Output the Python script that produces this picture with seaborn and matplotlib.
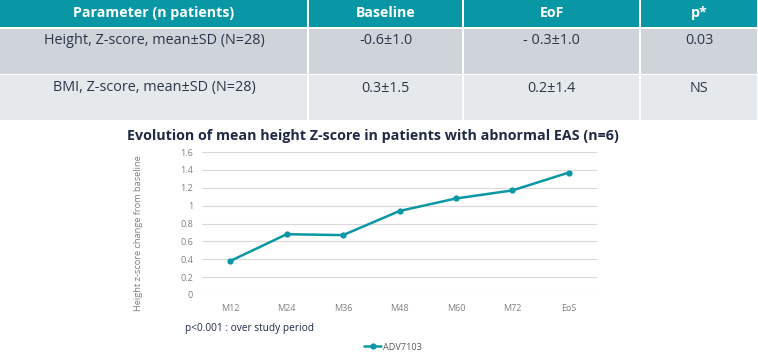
import matplotlib
matplotlib.use('Agg')
import matplotlib.pyplot as plt
import seaborn as sns
import pandas as pd
from matplotlib.patches import Rectangle

# table content
table_header = ['Parameter (n patients)', 'Baseline', 'EoF', 'p*']
table_rows = [
    ['Height, Z-score, mean±SD (N=28)', '-0.6±1.0', '- 0.3±1.0', '0.03'],
    ['BMI, Z-score, mean±SD (N=28)', '0.3±1.5', '0.2±1.4', 'NS'],
]

# chart data
visits = ['M12', 'M24', 'M36', 'M48', 'M60', 'M72', 'EoS']
height_change = [0.38, 0.68, 0.67, 0.94, 1.08, 1.17, 1.37]
series_name = 'ADV7103'

TEAL = '#0A97A5'
NAVY = '#1F2A44'

sns.set_theme(style='white')
plt.rcParams['font.family'] = ['Open Sans', 'DejaVu Sans']

W, H = 758, 353
fig = plt.figure(figsize=(W / 100, H / 100), dpi=100)

# --- table drawn in pixel coordinates ---
tab = fig.add_axes([0, 1 - 120 / H, 1, 120 / H])
tab.set_xlim(0, W)
tab.set_ylim(120, 0)
tab.axis('off')

col_edges = [0, 308, 463, 640, W]
row_spans = [(0, 27), (29, 74), (75, 120)]
row_colors = [TEAL, '#CFD4DA', '#E6E9EC']
text_y = [13, 40, 88]

for r, (y0, y1) in enumerate(row_spans):
    for c in range(4):
        x0 = col_edges[c] + (1 if c > 0 else 0)
        x1 = col_edges[c + 1] - 1
        tab.add_patch(Rectangle((x0, y0), x1 - x0, y1 - y0,
                                facecolor=row_colors[r], edgecolor='none'))

for c, label in enumerate(table_header):
    cx = (col_edges[c] + col_edges[c + 1]) / 2
    tab.text(cx, text_y[0], label, ha='center', va='center', color='white',
             fontsize=10.2, fontweight='bold')
for r, row in enumerate(table_rows):
    for c, label in enumerate(row):
        cx = (col_edges[c] + col_edges[c + 1]) / 2
        tab.text(cx, text_y[r + 1], label, ha='center', va='center',
                 color='#2B3548', fontsize=10.4)

# --- line chart ---
fig.text(373 / W, 1 - 136 / H,
         'Evolution of mean height Z-score in patients with abnormal EAS (n=6)',
         ha='center', va='center', color=NAVY, fontsize=10.3, fontweight='bold')

ax = fig.add_axes([202 / W, 58 / H, 395 / W, 143 / H])
df = pd.DataFrame({'visit': visits, 'change': height_change, 'series': series_name})
sns.lineplot(data=df, x='visit', y='change', hue='series', palette=[TEAL],
             marker='o', markersize=4.5, markeredgewidth=0, linewidth=1.8, ax=ax)

ax.set_ylim(0, 1.6)
ax.set_xlim(-0.5, len(visits) - 0.5)
ax.set_yticks([0, 0.2, 0.4, 0.6, 0.8, 1.0, 1.2, 1.4, 1.6])
ax.set_yticklabels(['0', '0.2', '0.4', '0.6', '0.8', '1', '1.2', '1.4', '1.6'])
ax.grid(axis='y', color='#D9D9D9', linewidth=0.8)
ax.grid(axis='x', visible=False)
for s in ax.spines.values():
    s.set_visible(False)
ax.tick_params(axis='both', length=0, labelsize=6.5, labelcolor='#7F7F7F', pad=6.5)
ax.set_xlabel('')
ax.set_ylabel('Height z-score change from baseline', fontsize=6.7, color='#7F7F7F')
ax.yaxis.set_label_coords(-0.15, 0.43)

fig.text(185 / W, 1 - 329 / H, 'p<0.001 : over study period',
         ha='left', va='center', color=NAVY, fontsize=7.3)

ax.legend(loc='center', bbox_to_anchor=(393 / W, 6 / H),
          bbox_transform=fig.transFigure, frameon=False, fontsize=6.6,
          handlelength=1.8, handletextpad=0.2, labelcolor='#595959')

fig.savefig('out.png', dpi=100)
